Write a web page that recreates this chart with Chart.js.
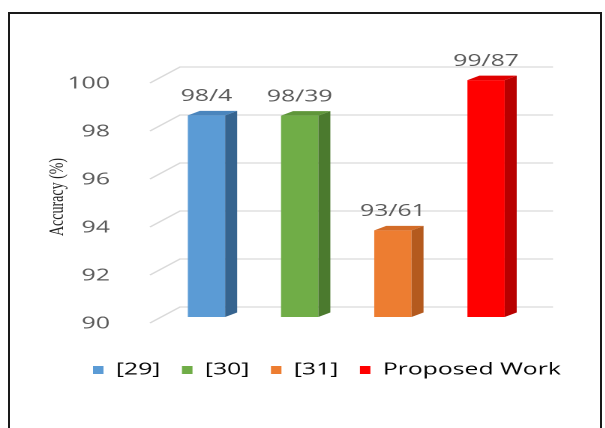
<!DOCTYPE html>
<html>
<head>
<meta charset="utf-8">
<script src="https://cdn.jsdelivr.net/npm/chart.js@4.4.1/dist/chart.umd.min.js"></script>
<style>
  html, body { margin: 0; padding: 0; background: #fff; overflow: hidden; }
  #frame { position: absolute; left: 8px; top: 12px; width: 590px; height: 430px; border: 2px solid #1a1a1a; }
  /* the source image is stretched sideways, so the whole chart is too */
  #wrap { position: absolute; left: 0; top: 0; width: 403.33px; height: 428px; transform: scaleX(1.5); transform-origin: 0 0; }
</style>
</head>
<body>
<div id="frame"></div>
<div id="wrap"><canvas id="acc"></canvas></div>
<script>
const labels = ['[29]', '[30]', '[31]', 'Proposed Work'];
const accuracy = [98.4, 98.39, 93.61, 99.87];
const yTicks = [90, 92, 94, 96, 98, 100];

const frontColors = ['#5B9BD5', '#70AD47', '#ED7D31', '#FF0000'];
const sideColors = ['#36648F', '#4B7A2E', '#B45A1E', '#B80000'];
const topColors = ['#4A85BD', '#5F963A', '#D36C28', '#E00000'];

const grey = '#595959';
Chart.defaults.font.family = '"Open Sans", sans-serif';
Chart.defaults.font.size = 16.5;
Chart.defaults.color = grey;

// back wall grid like the excel 3d chart
const wallGrid = {
  id: 'wallGrid',
  beforeDatasetsDraw(chart) {
    const {ctx, chartArea: a, scales: {y}} = chart;
    ctx.save();
    ctx.strokeStyle = '#d9d9d9';
    ctx.lineWidth = 1.3;
    yTicks.forEach(v => {
      const yb = y.getPixelForValue(v) - 10;
      ctx.beginPath();
      ctx.moveTo(a.left - 6.6, yb + 16);
      ctx.lineTo(a.left + 13.4, yb);
      ctx.lineTo(a.right + 13.6, yb);
      ctx.stroke();
    });
    ctx.restore();
  }
};

// side + top faces and the value labels
const bars3d = {
  id: 'bars3d',
  afterDatasetsDraw(chart) {
    const {ctx} = chart;
    const dx = 8, dy = -4.5;
    ctx.save();
    chart.getDatasetMeta(0).data.forEach((bar, i) => {
      const {x, y, base, width} = bar.getProps(['x', 'y', 'base', 'width'], true);
      const l = x - width / 2, r = x + width / 2;
      ctx.fillStyle = sideColors[i];
      ctx.beginPath();
      ctx.moveTo(r, y);
      ctx.lineTo(r + dx, y + dy);
      ctx.lineTo(r + dx, base + dy);
      ctx.lineTo(r, base);
      ctx.closePath();
      ctx.fill();
      ctx.fillStyle = topColors[i];
      ctx.beginPath();
      ctx.moveTo(l, y);
      ctx.lineTo(l + dx, y + dy);
      ctx.lineTo(r + dx, y + dy);
      ctx.lineTo(r, y);
      ctx.closePath();
      ctx.fill();
      ctx.fillStyle = grey;
      ctx.font = '16.5px "Open Sans"';
      ctx.textAlign = 'center';
      ctx.textBaseline = 'middle';
      ctx.fillText(String(accuracy[i]).replace('.', '/'), x, y - 19);
    });
    ctx.restore();
  }
};

// legend sits further right than chart.js would put it
const legendShift = {
  id: 'legendShift',
  afterLayout(chart) {
    const lg = chart.legend;
    const w = lg.right - lg.left;
    lg.left = 47.6;
    lg.right = lg.left + w;
  }
};

new Chart(document.getElementById('acc'), {
  type: 'bar',
  data: {
    labels: labels,
    datasets: [{
      data: accuracy,
      base: yTicks[0],
      backgroundColor: frontColors,
      borderWidth: 0,
      barPercentage: 0.4,
      categoryPercentage: 1,
    }],
  },
  options: {
    responsive: true,
    maintainAspectRatio: false,
    animation: false,
    devicePixelRatio: 2,
    layout: { padding: { left: 29.7, right: 0, top: 77, bottom: 39.75 } },
    scales: {
      x: {
        grid: { display: false },
        border: { display: false },
        ticks: { display: false },
        afterFit: s => { s.height = 30.35; },
      },
      y: {
        min: yTicks[0],
        max: yTicks[yTicks.length - 1],
        grid: { display: false },
        border: { display: false },
        afterBuildTicks: s => { s.ticks = yTicks.map(v => ({value: v})); },
        ticks: { padding: 25.3, labelOffset: 7, color: grey },
        title: {
          display: true,
          text: 'Accuracy (%)',
          color: '#222',
          padding: { top: 0, bottom: 0 },
          font: { family: '"Liberation Serif", serif', size: 14 },
        },
        afterFit: s => { s.width = 76.9; },
      },
      // empty space on the right of the plot
      spacer: {
        type: 'linear',
        position: 'right',
        grid: { display: false },
        border: { display: false },
        ticks: { display: false },
        afterFit: s => { s.width = 48.2; },
      },
    },
    plugins: {
      tooltip: { enabled: false },
      legend: {
        position: 'bottom',
        align: 'start',
        labels: {
          boxWidth: 7,
          boxHeight: 8,
          padding: 14.4,
          color: grey,
          generateLabels: () => labels.map((t, i) => ({
            text: t, fillStyle: frontColors[i], strokeStyle: frontColors[i],
            lineWidth: 0, hidden: false, index: i,
          })),
        },
      },
    },
  },
  plugins: [wallGrid, bars3d, legendShift],
});
</script>
</body>
</html>
